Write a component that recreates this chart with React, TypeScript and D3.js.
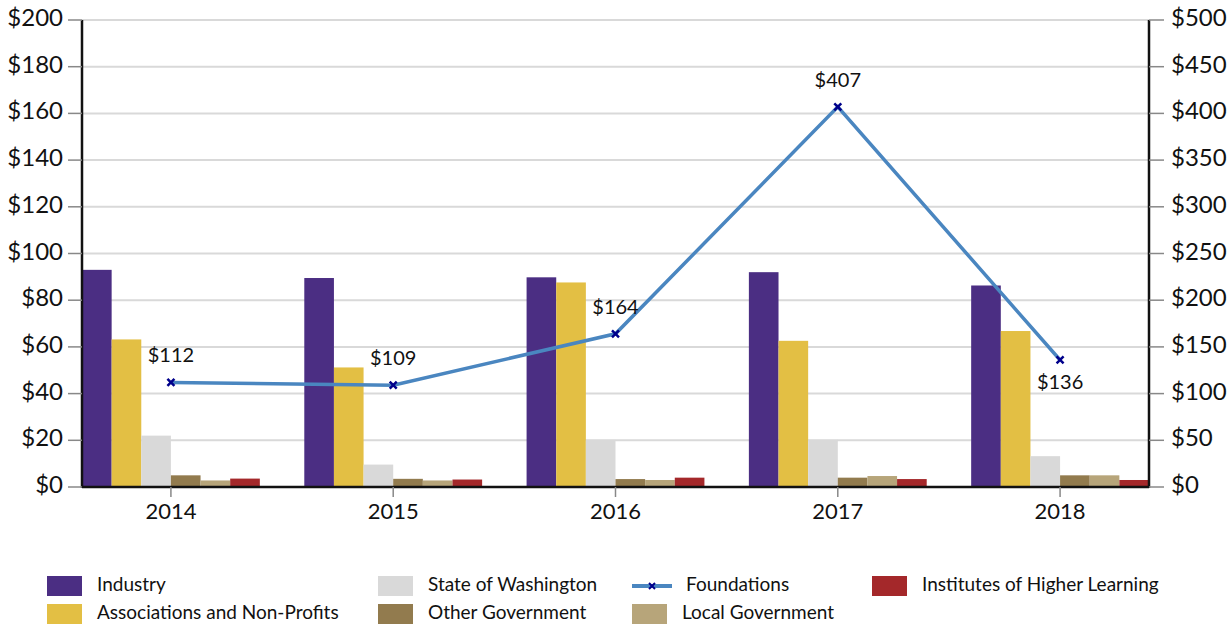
import React, { useEffect, useRef } from 'react';
import * as d3 from 'd3';

const years = ['2014', '2015', '2016', '2017', '2018'];
const seriesNames = [
  'Industry',
  'Associations and Non-Profits',
  'State of Washington',
  'Other Government',
  'Local Government',
  'Institutes of Higher Learning',
];
const seriesColors = ['#4b2e83', '#e3bf44', '#d9d9d9', '#927b4e', '#b7a57a', '#a4282a'];

const industry = [93, 89.5, 89.8, 92, 86.3];
const associations = [63.2, 51.2, 87.6, 62.6, 66.8];
const stateWa = [22, 9.6, 20.2, 20.2, 13.2];
const otherGov = [5, 3.5, 3.4, 4, 5];
const localGov = [2.8, 2.8, 3, 4.7, 5];
const institutes = [3.6, 3.2, 4, 3.4, 3];
const foundations = [112, 109, 164, 407, 136];

const leftTicks = [0, 20, 40, 60, 80, 100, 120, 140, 160, 180, 200];
const rightTicks = [0, 50, 100, 150, 200, 250, 300, 350, 400, 450, 500];

const legendItems = [
  { name: 'Industry', col: 0, row: 0, kind: 'bar', color: seriesColors[0] },
  { name: 'Associations and Non-Profits', col: 0, row: 1, kind: 'bar', color: seriesColors[1] },
  { name: 'State of Washington', col: 1, row: 0, kind: 'bar', color: seriesColors[2] },
  { name: 'Other Government', col: 1, row: 1, kind: 'bar', color: seriesColors[3] },
  { name: 'Foundations', col: 2, row: 0, kind: 'line', color: '#4a86c0' },
  { name: 'Local Government', col: 2, row: 1, kind: 'bar', color: seriesColors[4] },
  { name: 'Institutes of Higher Learning', col: 3, row: 0, kind: 'bar', color: seriesColors[5] },
];

const width = 1230;
const height = 628;
const font = 'Lato, "Open Sans", sans-serif';

const App: React.FC = () => {
  const svgRef = useRef<SVGSVGElement>(null);

  useEffect(() => {
    if (!svgRef.current) return;
    const svg = d3.select(svgRef.current);
    svg.selectAll('*').remove();

    const left = 82;
    const right = 1149;
    const top = 20;
    const bottom = 487;

    const x = d3.scaleBand().domain(years).range([left, right]).paddingInner(0.2).paddingOuter(0);
    const xSub = d3.scaleBand().domain(seriesNames).range([0, x.bandwidth()]).padding(0);
    const yL = d3.scaleLinear().domain([0, 200]).range([bottom, top]);
    const yR = d3.scaleLinear().domain([0, 500]).range([bottom, top]);

    // Gridlines
    svg.append('g')
      .selectAll('line')
      .data(leftTicks.slice(1))
      .enter().append('line')
      .attr('x1', left)
      .attr('x2', right)
      .attr('y1', d => yL(d))
      .attr('y2', d => yL(d))
      .attr('stroke', '#d9d9d9')
      .attr('stroke-width', 2);

    // Bars
    const seriesValues = [industry, associations, stateWa, otherGov, localGov, institutes];
    const cells = years.flatMap((yr, i) =>
      seriesNames.map((s, j) => ({ yr, s, v: seriesValues[j][i], color: seriesColors[j] }))
    );
    svg.append('g')
      .selectAll('rect')
      .data(cells)
      .enter().append('rect')
      .attr('x', d => (x(d.yr) || 0) + (xSub(d.s) || 0))
      .attr('width', xSub.bandwidth())
      .attr('y', d => yL(d.v))
      .attr('height', d => bottom - yL(d.v))
      .attr('fill', d => d.color);

    // Foundations line
    const cx = (yr: string) => (x(yr) || 0) + x.bandwidth() / 2;
    const line = d3.line<number>()
      .x((_, i) => cx(years[i]))
      .y(d => yR(d));
    svg.append('path')
      .datum(foundations)
      .attr('d', line)
      .attr('fill', 'none')
      .attr('stroke', '#4a86c0')
      .attr('stroke-width', 3.5);

    const m = 3.5;
    foundations.forEach((v, i) => {
      const px = cx(years[i]);
      const py = yR(v);
      svg.append('path')
        .attr('d', `M${px - m},${py - m}L${px + m},${py + m}M${px - m},${py + m}L${px + m},${py - m}`)
        .attr('stroke', '#00008b')
        .attr('stroke-width', 2.5);
      const below = i === 4;
      svg.append('text')
        .attr('x', px)
        .attr('y', below ? py + 24 : py - 25)
        .attr('text-anchor', 'middle')
        .attr('dominant-baseline', 'middle')
        .style('font-family', font)
        .style('font-size', '20px')
        .style('fill', '#111')
        .text(`$${v}`);
    });

    // Axes lines
    svg.append('line')
      .attr('x1', left).attr('x2', left).attr('y1', top).attr('y2', bottom + 1)
      .attr('stroke', '#111').attr('stroke-width', 2.5);
    svg.append('line')
      .attr('x1', right).attr('x2', right).attr('y1', top).attr('y2', bottom + 1)
      .attr('stroke', '#111').attr('stroke-width', 2.5);
    svg.append('line')
      .attr('x1', left).attr('x2', right).attr('y1', bottom).attr('y2', bottom)
      .attr('stroke', '#111').attr('stroke-width', 2.5);

    // Left ticks
    const lt = svg.append('g');
    leftTicks.forEach(t => {
      lt.append('line')
        .attr('x1', left - 14).attr('x2', left).attr('y1', yL(t)).attr('y2', yL(t))
        .attr('stroke', '#888').attr('stroke-width', 1.5);
      lt.append('text')
        .attr('x', left - 19)
        .attr('y', yL(t))
        .attr('text-anchor', 'end')
        .attr('dominant-baseline', 'middle')
        .style('font-family', font)
        .style('font-size', '24px')
        .style('fill', '#111')
        .text(`$${t}`);
    });

    // Right ticks
    const rt = svg.append('g');
    rightTicks.forEach(t => {
      rt.append('line')
        .attr('x1', right).attr('x2', right + 15).attr('y1', yR(t)).attr('y2', yR(t))
        .attr('stroke', '#888').attr('stroke-width', 1.5);
      rt.append('text')
        .attr('x', right + 22)
        .attr('y', yR(t))
        .attr('text-anchor', 'start')
        .attr('dominant-baseline', 'middle')
        .style('font-family', font)
        .style('font-size', '24px')
        .style('fill', '#111')
        .text(`$${t}`);
    });

    // X ticks and labels
    years.forEach(yr => {
      svg.append('line')
        .attr('x1', cx(yr)).attr('x2', cx(yr)).attr('y1', bottom).attr('y2', bottom + 10)
        .attr('stroke', '#888').attr('stroke-width', 1.5);
      svg.append('text')
        .attr('x', cx(yr))
        .attr('y', 513)
        .attr('text-anchor', 'middle')
        .attr('dominant-baseline', 'middle')
        .style('font-family', font)
        .style('font-size', '22px')
        .style('fill', '#111')
        .text(yr);
    });

    // Legend
    const colX = [47, 378, 632, 872];
    const rowY = [586, 614];
    const lg = svg.append('g');
    legendItems.forEach(item => {
      const lx = colX[item.col];
      const ly = rowY[item.row];
      if (item.kind === 'bar') {
        lg.append('rect')
          .attr('x', lx).attr('y', ly - 10).attr('width', 35).attr('height', 20)
          .attr('fill', item.color);
      } else {
        lg.append('line')
          .attr('x1', lx).attr('x2', lx + 40).attr('y1', ly).attr('y2', ly)
          .attr('stroke', item.color).attr('stroke-width', 4);
        lg.append('path')
          .attr('d', `M${lx + 17},${ly - 3}L${lx + 23},${ly + 3}M${lx + 17},${ly + 3}L${lx + 23},${ly - 3}`)
          .attr('stroke', '#00008b').attr('stroke-width', 2);
      }
      lg.append('text')
        .attr('x', lx + (item.kind === 'bar' ? 50 : 54))
        .attr('y', ly)
        .attr('dominant-baseline', 'middle')
        .style('font-family', font)
        .style('font-size', '19px')
        .style('fill', '#111')
        .text(item.name);
    });
  }, []);

  return (
    <svg
      ref={svgRef}
      width={width}
      height={height}
      style={{ position: 'absolute', left: 0, top: 0, background: 'white' }}
    />
  );
};

export default App;
